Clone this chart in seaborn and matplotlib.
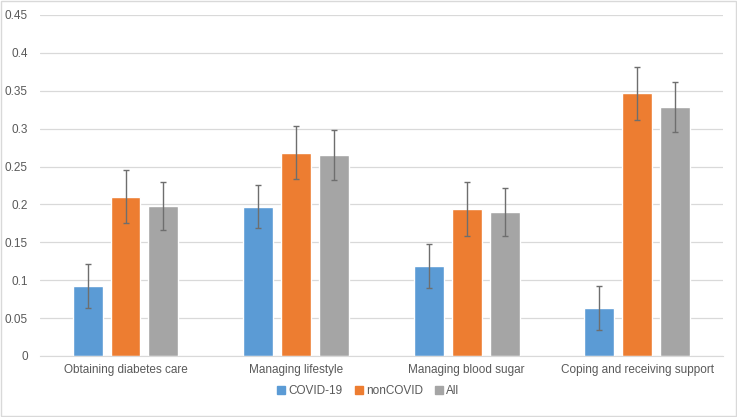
import pandas as pd
import matplotlib.pyplot as plt
import seaborn as sns
from matplotlib.patches import Rectangle
from matplotlib.lines import Line2D

# --- data ---
categories = ['Obtaining diabetes care', 'Managing lifestyle',
              'Managing blood sugar', 'Coping and receiving support']
groups = ['COVID-19', 'nonCOVID', 'All']
covid = [0.092, 0.197, 0.119, 0.063]
noncovid = [0.210, 0.268, 0.194, 0.347]
all_vals = [0.198, 0.265, 0.190, 0.329]
covid_err = [0.029, 0.028, 0.029, 0.029]
noncovid_err = [0.035, 0.035, 0.035, 0.035]
all_err = [0.032, 0.033, 0.032, 0.033]
y_ticks = [0, 0.05, 0.1, 0.15, 0.2, 0.25, 0.3, 0.35, 0.4, 0.45]
y_ticklabels = ['0', '0.05', '0.1', '0.15', '0.2', '0.25', '0.3', '0.35', '0.4', '0.45']

colors = ['#5B9BD5', '#ED7D31', '#A5A5A5']
text_col = '#595959'
grid_col = '#D9D9D9'

rows = []
for g, vals, errs in zip(groups, [covid, noncovid, all_vals], [covid_err, noncovid_err, all_err]):
    for c, v, e in zip(categories, vals, errs):
        rows.append({'Category': c, 'Group': g, 'Value': v, 'Err': e})
df = pd.DataFrame(rows)

sns.set_style('white')
plt.rcParams['font.family'] = ['Liberation Sans', 'DejaVu Sans']

fig = plt.figure(figsize=(7.37, 4.17), dpi=100)
ax = fig.add_axes([40.2 / 737, 1 - 356 / 417, 682.4 / 737, 341 / 417])

sns.barplot(data=df, x='Category', y='Value', hue='Group', order=categories,
            hue_order=groups, palette=colors, width=0.667, gap=0.21,
            errorbar=None, saturation=1, ax=ax, legend=False, zorder=2)

# error bars at bar centres
for gi, g in enumerate(groups):
    sub = df[df['Group'] == g].set_index('Category').loc[categories]
    bars = ax.containers[gi]
    xs = [b.get_x() + b.get_width() / 2 for b in bars]
    ax.errorbar(xs, sub['Value'], yerr=sub['Err'], fmt='none', ecolor='#6E6E6E',
                elinewidth=1, capsize=2.5, capthick=1, zorder=3)

ax.set_ylim(0, 0.45)
ax.set_xlim(-0.5, 3.5)
ax.set_yticks(y_ticks)
ax.set_yticklabels(y_ticklabels)
ax.yaxis.grid(True, color=grid_col, linewidth=0.9, zorder=0)
ax.set_axisbelow(True)
for s in ['top', 'right', 'left']:
    ax.spines[s].set_visible(False)
ax.spines['bottom'].set_color(grid_col)
ax.tick_params(axis='both', length=0, labelsize=8.5, colors=text_col, pad=6)
ax.tick_params(axis='y', pad=9)
ax.set_xlabel('')
ax.set_ylabel('')

handles = [Line2D([0], [0], marker='s', color='none', markerfacecolor=c,
                  markeredgecolor=c, markersize=5.5) for c in colors]
fig.legend(handles, groups, loc='center', bbox_to_anchor=(0.5, 1 - 391 / 417),
           ncol=3, frameon=False, fontsize=8.5, labelcolor=text_col,
           handlelength=0.6, handletextpad=0.3, columnspacing=1.1)

# chart border
fig.patches.append(Rectangle((0.001, 0.002), 0.997, 0.995, transform=fig.transFigure,
                             fill=False, edgecolor=grid_col, linewidth=1))

fig.savefig('out.png', dpi=100)
